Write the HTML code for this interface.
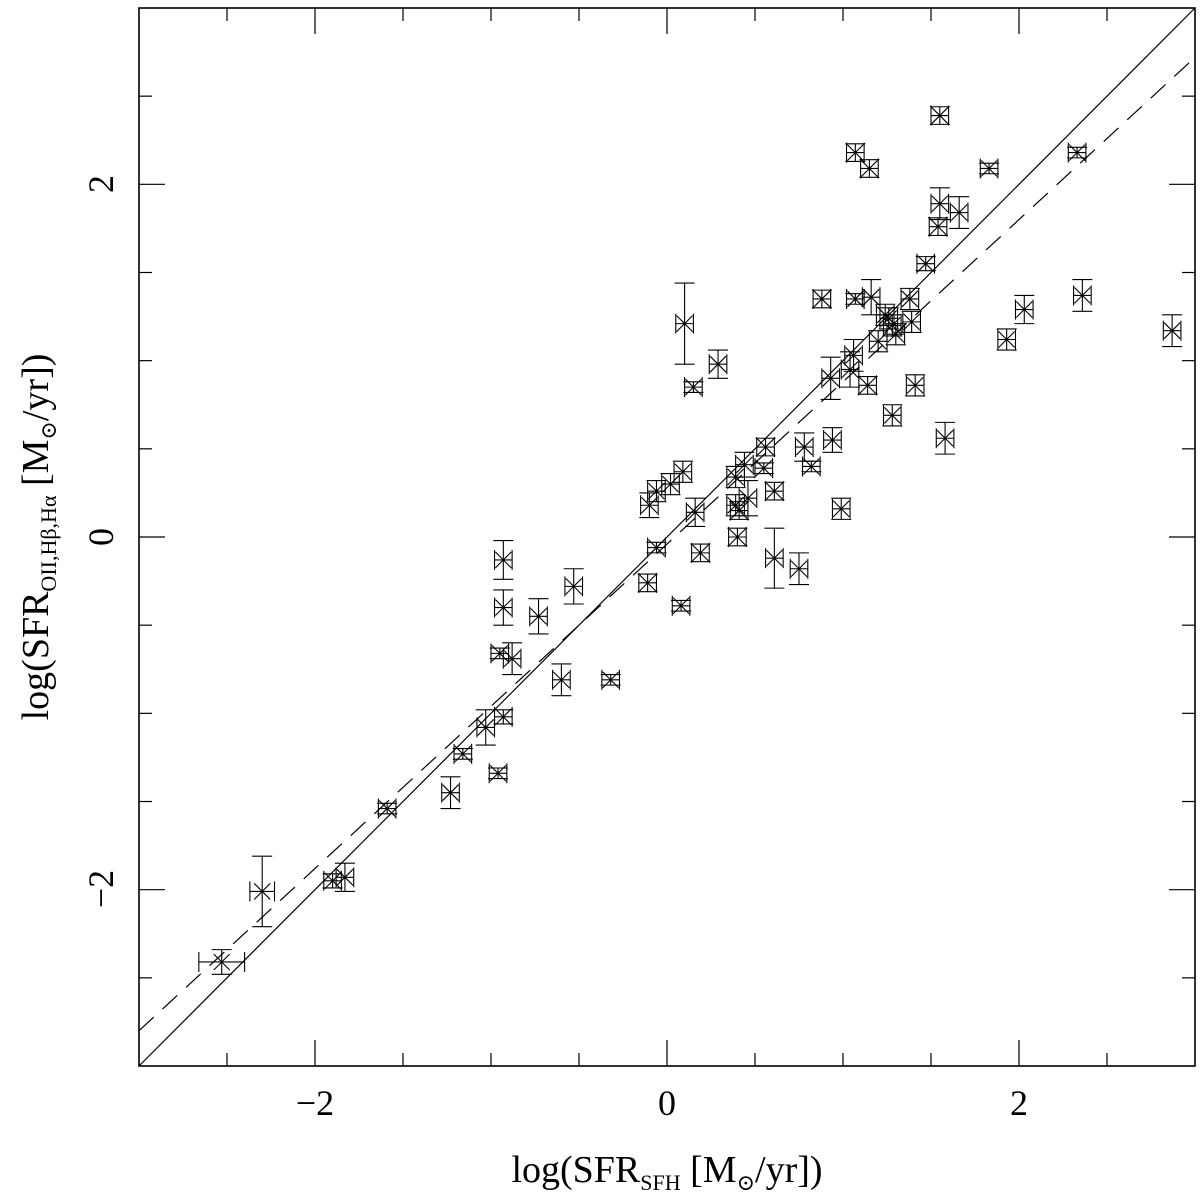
<!DOCTYPE html>
<html><head><meta charset="utf-8"><style>
html,body{margin:0;padding:0;background:#fff;}
svg{display:block;}
text{font-family:"Liberation Serif","DejaVu Serif",serif;fill:#000;}
</style></head><body>
<svg id="chart" width="1200" height="1196" viewBox="0 0 1200 1196" xmlns="http://www.w3.org/2000/svg">
<g id="frame"></g>
<g id="ticks"></g>
<g id="lines"></g>
<g id="points"></g>
<g id="labels">
<text x="315" y="1115" font-size="36" text-anchor="middle">−2</text>
<text x="667" y="1115" font-size="36" text-anchor="middle">0</text>
<text x="1019" y="1115" font-size="36" text-anchor="middle">2</text>
<text transform="translate(113,184) rotate(-90)" font-size="36" text-anchor="middle">2</text>
<text transform="translate(113,537) rotate(-90)" font-size="36" text-anchor="middle">0</text>
<text transform="translate(113,889) rotate(-90)" font-size="36" text-anchor="middle">−2</text>
<text x="667" y="1182" font-size="38" text-anchor="middle">log(SFR<tspan font-size="22" dy="8">SFH</tspan><tspan dy="-8"> [M</tspan><tspan font-size="22" dy="8">⊙</tspan><tspan dy="-8">/yr])</tspan></text>
<text transform="translate(48,537) rotate(-90)" font-size="38" text-anchor="middle">log(SFR<tspan font-size="22" dy="8">OII,Hβ,Hα</tspan><tspan dy="-8"> [M</tspan><tspan font-size="22" dy="8">⊙</tspan><tspan dy="-8">/yr])</tspan></text>
</g>
</svg>
<script>
const xVals = [-2.53,-2.30,-1.90,-1.83,-1.59,-1.23,-1.16,-1.03,-0.96,-0.93,-0.95,-0.88,-0.93,-0.93,-0.73,-0.53,-0.60,-0.32,-0.11,-0.10,-0.06,0.02,0.09,-0.06,0.08,0.10,0.15,0.29,0.16,0.19,0.39,0.39,0.44,0.46,0.40,0.41,0.55,0.56,0.61,0.61,0.75,0.78,0.82,0.94,0.99,0.88,0.93,1.04,1.06,1.07,1.07,1.15,1.14,1.16,1.20,1.24,1.26,1.28,1.30,1.28,1.38,1.39,1.41,1.47,1.54,1.55,1.55,1.66,1.58,1.83,1.93,2.03,2.33,2.36,2.87];
const yVals = [-2.41,-2.01,-1.95,-1.93,-1.54,-1.45,-1.23,-1.08,-1.34,-1.02,-0.66,-0.69,-0.13,-0.40,-0.45,-0.28,-0.81,-0.81,-0.26,0.18,0.26,0.30,0.37,-0.06,-0.39,1.21,0.85,0.98,0.14,-0.09,0.18,0.34,0.41,0.22,0.00,0.15,0.39,0.51,-0.12,0.26,-0.18,0.51,0.40,0.55,0.16,1.35,0.90,0.95,1.03,1.35,2.18,2.09,0.86,1.36,1.11,1.26,1.24,1.20,1.15,0.69,1.35,1.22,0.86,1.55,1.76,2.39,1.89,1.84,0.56,2.09,1.12,1.29,2.18,1.37,1.17];
const yErr = [0.07,0.20,0.04,0.08,0.03,0.09,0.03,0.10,0.03,0.04,0.03,0.09,0.11,0.10,0.10,0.10,0.09,0.03,0.05,0.07,0.06,0.06,0.06,0.03,0.03,0.23,0.03,0.08,0.08,0.05,0.06,0.06,0.07,0.10,0.05,0.05,0.03,0.05,0.17,0.05,0.09,0.08,0.03,0.07,0.06,0.05,0.12,0.10,0.09,0.03,0.05,0.05,0.05,0.10,0.06,0.06,0.06,0.06,0.06,0.06,0.06,0.06,0.06,0.04,0.05,0.05,0.09,0.09,0.09,0.03,0.06,0.08,0.03,0.09,0.09];
const xErr = [0.13,0.07,0.05,0.05,0.05,0.05,0.05,0.05,0.05,0.05,0.05,0.05,0.05,0.05,0.05,0.05,0.05,0.05,0.05,0.05,0.05,0.05,0.05,0.05,0.05,0.05,0.05,0.05,0.05,0.05,0.05,0.05,0.05,0.05,0.05,0.05,0.05,0.05,0.05,0.05,0.05,0.05,0.05,0.05,0.05,0.05,0.05,0.05,0.05,0.05,0.05,0.05,0.05,0.05,0.05,0.05,0.05,0.05,0.05,0.05,0.05,0.05,0.05,0.05,0.05,0.05,0.05,0.05,0.05,0.05,0.05,0.05,0.05,0.05,0.05];
const fitSlope = 0.92;
const fitIntercept = -0.04;
const xMin=-3,xMax=3,yMin=-3,yMax=3;
const L=139,R=1195,T=8,B=1066;
function sx(v){return L+(v-xMin)/(xMax-xMin)*(R-L);}
function sy(v){return B-(v-yMin)/(yMax-yMin)*(B-T);}
const NS='http://www.w3.org/2000/svg';
function ln(g,x1,y1,x2,y2,w,dash){const e=document.createElementNS(NS,'line');e.setAttribute('x1',x1);e.setAttribute('y1',y1);e.setAttribute('x2',x2);e.setAttribute('y2',y2);e.setAttribute('stroke','#000');e.setAttribute('stroke-width',w||1.2);if(dash)e.setAttribute('stroke-dasharray',dash);g.appendChild(e);return e;}
const fr=document.getElementById('frame');
const rect=document.createElementNS(NS,'rect');


rect.setAttribute('x',L);rect.setAttribute('y',T);rect.setAttribute('width',R-L);rect.setAttribute('height',B-T);
rect.setAttribute('fill','none');rect.setAttribute('stroke','#000');rect.setAttribute('stroke-width','1.6');
fr.appendChild(rect);
const tg=document.getElementById('ticks');
for(let v=-2.5;v<=2.51;v+=0.5){
  const major=Math.abs(Math.round(v)-v)<1e-6 && Math.round(v)%2===0;
  const len=major?26:13;
  const px=sx(v),py=sy(v);
  let e;
  e=ln(tg,px,B,px,B-len,1.2);
  
  
  e=ln(tg,px,T,px,T+len,1.2);
  
  
  e=ln(tg,L,py,L+len,py,1.2);
  
  
  e=ln(tg,R,py,R-len,py,1.2);
  
  
}
const lg=document.getElementById('lines');
let e1=ln(lg,sx(-3),sy(-3),sx(3),sy(3),1.2);


let e2=ln(lg,sx(-3),sy(fitSlope*-3+fitIntercept),sx(3),sy(fitSlope*3+fitIntercept),1.2,'20,12');


const pg=document.getElementById('points');
for(let i=0;i<xVals.length;i++){
  const g=document.createElementNS(NS,'g');
  
  
  const cx=sx(xVals[i]),cy=sy(yVals[i]);
  const y1=sy(yVals[i]+yErr[i]),y2=sy(yVals[i]-yErr[i]);
  const x1=sx(xVals[i]-xErr[i]),x2=sx(xVals[i]+xErr[i]);
  ln(g,cx,y1,cx,y2,1.1);ln(g,cx-10,y1,cx+10,y1,1.1);ln(g,cx-10,y2,cx+10,y2,1.1);
  ln(g,x1,cy,x2,cy,1.1);ln(g,x1,cy-10,x1,cy+10,1.1);ln(g,x2,cy-10,x2,cy+10,1.1);
  ln(g,cx-8,cy-8,cx+8,cy+8,1.1);ln(g,cx-8,cy+8,cx+8,cy-8,1.1);
  pg.appendChild(g);
}
</script>
</body></html>
